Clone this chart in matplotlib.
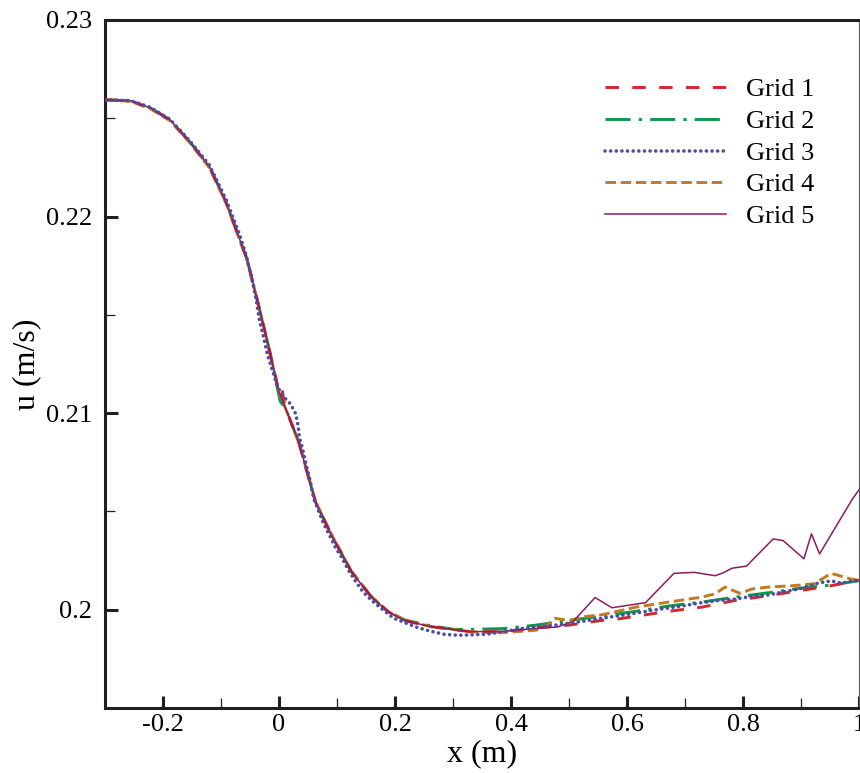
import matplotlib as mpl; mpl.use('Agg')
import matplotlib.pyplot as plt
from matplotlib.ticker import FixedLocator, FixedFormatter

plt.rcParams.update({'font.family': ['Liberation Serif', 'DejaVu Serif'], 'axes.unicode_minus': False})

# ---- data: u (m/s) along x (m) ----
x_g1 = [-0.300, -0.256, -0.222, -0.188, -0.154, -0.120, -0.091, -0.074, -0.055, -0.039, -0.021, -0.009,
        0.000, 0.005, 0.009, 0.014, 0.034, 0.046, 0.063, 0.091, 0.125, 0.159, 0.188, 0.217, 0.262,
        0.330, 0.387, 0.444, 0.501, 0.558, 0.587, 0.672, 0.729, 0.786, 0.843, 0.900, 0.946, 0.991, 1.000]
u_g1 = [0.22594, 0.22589, 0.22553, 0.22492, 0.22381, 0.22254, 0.22071, 0.21934, 0.21782, 0.21594, 0.21376, 0.21223,
        0.21107, 0.21130, 0.21050, 0.21005, 0.20853, 0.20726, 0.20548, 0.20376, 0.20193, 0.20066, 0.19990, 0.19944, 0.19914,
        0.19888, 0.19888, 0.19908, 0.19922, 0.19946, 0.19954, 0.19992, 0.20013, 0.20047, 0.20071, 0.20098, 0.20119, 0.20144, 0.20150]

x_g2 = [-0.300, -0.256, -0.222, -0.188, -0.154, -0.120, -0.091, -0.074, -0.055, -0.039, -0.021, -0.009,
        -0.003, 0.002, 0.006, 0.014, 0.034, 0.046, 0.063, 0.091, 0.125, 0.159, 0.188, 0.217, 0.262,
        0.302, 0.330, 0.387, 0.444, 0.501, 0.558, 0.615, 0.672, 0.729, 0.786, 0.843, 0.900, 0.957, 0.991, 1.000]
u_g2 = [0.22594, 0.22589, 0.22553, 0.22492, 0.22381, 0.22254, 0.22071, 0.21934, 0.21782, 0.21594, 0.21376, 0.21223,
        0.21130, 0.21060, 0.21045, 0.21005, 0.20853, 0.20726, 0.20548, 0.20376, 0.20193, 0.20066, 0.19990, 0.19948, 0.19918,
        0.19900, 0.19900, 0.19904, 0.19922, 0.19946, 0.19968, 0.19992, 0.20019, 0.20039, 0.20064, 0.20086, 0.20110, 0.20127, 0.20144, 0.20148]

x_g3 = [-0.300, -0.256, -0.222, -0.188, -0.154, -0.120, -0.091, -0.068, -0.057, -0.048, -0.040, -0.034, -0.027,
        -0.020, -0.012, -0.003, 0.003, 0.009, 0.020, 0.029, 0.033, 0.035, 0.040, 0.044, 0.048, 0.053,
        0.060, 0.068, 0.077, 0.086, 0.097, 0.108, 0.120, 0.131, 0.145, 0.160, 0.177, 0.197, 0.217, 0.239,
        0.262, 0.285, 0.308, 0.330, 0.359, 0.387, 0.416, 0.444, 0.473, 0.501, 0.530, 0.558, 0.587, 0.615,
        0.644, 0.672, 0.701, 0.729, 0.758, 0.786, 0.815, 0.843, 0.872, 0.900, 0.929, 0.952, 0.969, 0.988, 1.000]
u_g3 = [0.22594, 0.22590, 0.22556, 0.22495, 0.22386, 0.22262, 0.22085, 0.21909, 0.21807, 0.21697, 0.21587, 0.21477, 0.21392,
        0.21299, 0.21223, 0.21139, 0.21105, 0.21080, 0.21046, 0.20995, 0.20936, 0.20878, 0.20826, 0.20775, 0.20724, 0.20665,
        0.20563, 0.20504, 0.20437, 0.20386, 0.20318, 0.20267, 0.20200, 0.20149, 0.20090, 0.20047, 0.20005, 0.19958, 0.19934, 0.19909,
        0.19890, 0.19875, 0.19870, 0.19872, 0.19876, 0.19888, 0.19904, 0.19913, 0.19920, 0.19932, 0.19944, 0.19957, 0.19970, 0.19983,
        0.19997, 0.20009, 0.20022, 0.20036, 0.20047, 0.20054, 0.20068, 0.20075, 0.20092, 0.20108, 0.20135, 0.20147, 0.20135, 0.20145, 0.20150]

x_g4 = [-0.300, -0.256, -0.222, -0.188, -0.154, -0.120, -0.091, -0.074, -0.055, -0.039, -0.021, -0.009,
        0.000, 0.014, 0.034, 0.046, 0.063, 0.091, 0.125, 0.159, 0.188, 0.217, 0.262,
        0.330, 0.387, 0.444, 0.462, 0.476, 0.490, 0.501, 0.525, 0.558, 0.615, 0.672, 0.729, 0.752, 0.769,
        0.795, 0.815, 0.843, 0.885, 0.923, 0.952, 0.985, 1.000]
u_g4 = [0.22594, 0.22586, 0.22549, 0.22488, 0.22376, 0.22248, 0.22066, 0.21930, 0.21779, 0.21592, 0.21374, 0.21221,
        0.21105, 0.21003, 0.20853, 0.20726, 0.20550, 0.20380, 0.20196, 0.20068, 0.19992, 0.19946, 0.19914,
        0.19888, 0.19884, 0.19896, 0.19920, 0.19956, 0.19950, 0.19946, 0.19964, 0.19975, 0.20013, 0.20039, 0.20064, 0.20081, 0.20115,
        0.20083, 0.20105, 0.20115, 0.20122, 0.20132, 0.20185, 0.20157, 0.20150]

x_g5 = [-0.300, -0.256, -0.222, -0.188, -0.154, -0.120, -0.091, -0.074, -0.055, -0.039, -0.021, -0.009,
        0.000, 0.014, 0.034, 0.046, 0.063, 0.091, 0.125, 0.159, 0.188, 0.217, 0.262,
        0.330, 0.387, 0.444, 0.480, 0.507, 0.545, 0.574, 0.632, 0.681, 0.716, 0.752, 0.766, 0.781, 0.806,
        0.852, 0.869, 0.905, 0.918, 0.932, 0.989, 1.000]
u_g5 = [0.22594, 0.22589, 0.22553, 0.22492, 0.22381, 0.22254, 0.22071, 0.21934, 0.21782, 0.21594, 0.21376, 0.21223,
        0.21107, 0.21005, 0.20853, 0.20726, 0.20548, 0.20376, 0.20193, 0.20066, 0.19990, 0.19944, 0.19914,
        0.19888, 0.19890, 0.19905, 0.19912, 0.19940, 0.20062, 0.20010, 0.20036, 0.20185, 0.20190, 0.20173, 0.20188, 0.20211, 0.20222,
        0.20360, 0.20352, 0.20259, 0.20386, 0.20284, 0.20565, 0.20610]

labels = ['Grid 1', 'Grid 2', 'Grid 3', 'Grid 4', 'Grid 5']
xticks = [-0.2, 0.0, 0.2, 0.4, 0.6, 0.8, 1.0]
xticklabels = ['-0.2', '0', '0.2', '0.4', '0.6', '0.8', '1']
xminor = [-0.1, 0.1, 0.3, 0.5, 0.7, 0.9]
yticks = [0.20, 0.21, 0.22, 0.23]
yticklabels = ['0.2', '0.21', '0.22', '0.23']
yminor = [0.205, 0.215, 0.225]

fig = plt.figure(figsize=(8.6, 7.73), dpi=100)
ax = fig.add_axes([105/860, 65/773, 754/860, 688/773])

lw = 2.1
ax.plot(x_g1, u_g1, color='#d7262b', lw=lw, dashes=(4.6, 4.6), label=labels[0], zorder=4)
ax.plot(x_g2, u_g2, color='#0a9a4a', lw=lw, dashes=(8.6, 2.8, 1.1, 2.8), label=labels[1], zorder=2)
ax.plot(x_g3, u_g3, color='#4b4ba8', lw=2.6, dashes=(0.01, 1.55), dash_capstyle='round', label=labels[2], zorder=6)
ax.plot(x_g4, u_g4, color='#c27a1e', lw=lw, dashes=(3.6, 1.6), label=labels[3], zorder=3)
ax.plot(x_g5, u_g5, color='#8c1c5c', lw=1.1, label=labels[4], zorder=5)

ax.set_xlim(-0.3, 1.0)
ax.set_ylim(0.195, 0.23)
ax.xaxis.set_major_locator(FixedLocator(xticks))
ax.xaxis.set_major_formatter(FixedFormatter(xticklabels))
ax.xaxis.set_minor_locator(FixedLocator(xminor))
ax.yaxis.set_major_locator(FixedLocator(yticks))
ax.yaxis.set_major_formatter(FixedFormatter(yticklabels))
ax.yaxis.set_minor_locator(FixedLocator(yminor))

ax.tick_params(which='major', direction='in', length=9, width=2.2, labelsize=19, color='#231f20')
ax.tick_params(which='minor', direction='in', length=7, width=0.9, color='#231f20')
ax.tick_params(axis='x', which='major', pad=4)
ax.tick_params(axis='y', which='major', pad=9)
for s in ['left', 'bottom', 'top']:
    ax.spines[s].set_linewidth(2.2); ax.spines[s].set_color('#231f20')
ax.spines['right'].set_linewidth(0.8); ax.spines['right'].set_color('#555555')

ax.set_xlabel('x (m)', fontsize=23)
ax.set_ylabel('u (m/s)', fontsize=23)
ax.xaxis.set_label_coords(0.5, -0.046)
ax.yaxis.set_label_coords(-0.084, 0.5)

fig.legend(loc='upper left', bbox_to_anchor=(605/860, 1 - 78/773), fontsize=19, frameon=False,
           handlelength=4.6, handletextpad=0.75, labelspacing=0.31, borderpad=0, borderaxespad=0)

plt.savefig('out.png', dpi=100)
